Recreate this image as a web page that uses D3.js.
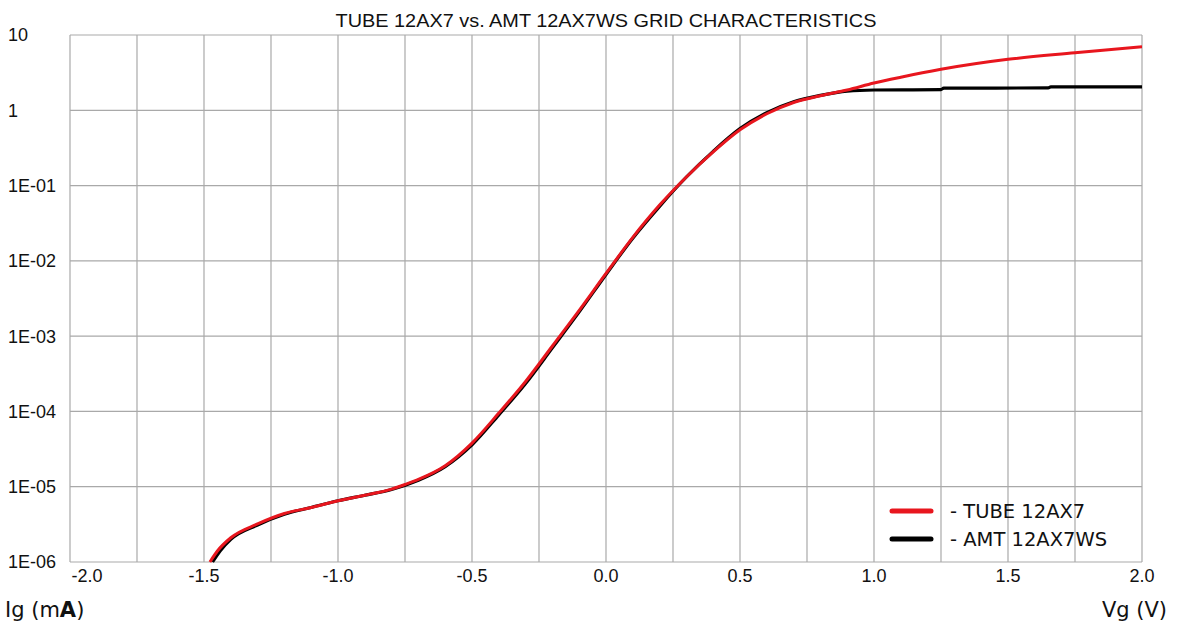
<!DOCTYPE html>
<html lang="en">
<head>
<meta charset="UTF-8">
<script src="https://d3js.org/d3.v7.min.js"></script>
<title>Grid characteristics</title>
<style>
  body { margin: 0; background: #fff; }
</style>
</head>
<body>
<div id="chart"></div>
<script>
// data (Vg in volts, Ig in mA)
var vgTube = [-1.478, -1.45, -1.4, -1.3, -1.2, -1.1, -1.0, -0.9, -0.8, -0.75, -0.7, -0.6, -0.5, -0.4, -0.3, -0.2, -0.1, 0.0, 0.1, 0.2, 0.3, 0.4, 0.5, 0.6, 0.7, 0.8, 0.9, 1.0, 1.1, 1.25, 1.5, 1.75, 2.0];
var igTube = [1e-6, 1.4e-6, 2.1e-6, 3.2e-6, 4.4e-6, 5.3e-6, 6.5e-6, 7.7e-6, 9.3e-6, 1.07e-5, 1.25e-5, 1.9e-5, 3.8e-5, 9.5e-5, 2.5e-4, 7.4e-4, 2.2e-3, 6.8e-3, 0.0205, 0.055, 0.13, 0.28, 0.55, 0.9, 1.27, 1.56, 1.86, 2.3, 2.75, 3.5, 4.75, 5.8, 7.0];

var vgAmt = [-1.468, -1.44, -1.4, -1.3, -1.2, -1.1, -1.0, -0.9, -0.8, -0.7, -0.6, -0.5, -0.4, -0.3, -0.2, -0.1, 0.0, 0.1, 0.2, 0.3, 0.4, 0.5, 0.6, 0.7, 0.8, 0.9, 1.0, 1.25, 1.26, 1.65, 1.66, 2.0];
var igAmt = [1e-6, 1.4e-6, 2.0e-6, 3.1e-6, 4.3e-6, 5.3e-6, 6.5e-6, 7.7e-6, 9.2e-6, 1.22e-5, 1.85e-5, 3.6e-5, 9.0e-5, 2.35e-4, 7.0e-4, 2.1e-3, 6.6e-3, 0.020, 0.053, 0.13, 0.285, 0.57, 0.93, 1.3, 1.58, 1.8, 1.86, 1.88, 1.97, 1.98, 2.05, 2.05];

var xTicks = [-2.0, -1.5, -1.0, -0.5, 0.0, 0.5, 1.0, 1.5, 2.0];
var yTicks = [10, 1, 1e-1, 1e-2, 1e-3, 1e-4, 1e-5, 1e-6];
var yTickLabels = ["10", "1", "1E-01", "1E-02", "1E-03", "1E-04", "1E-05", "1E-06"];

var seriesNames = ["- TUBE 12AX7", "- AMT 12AX7WS"];
var seriesColors = ["#e8161e", "#000000"];

var W = 1178, H = 623;
var margin = {top: 35, right: 36, bottom: 61, left: 70},
    width = W - margin.left - margin.right,
    height = H - margin.top - margin.bottom;

var svg = d3.select("#chart")
  .append("svg")
    .attr("width", W)
    .attr("height", H);

var g = svg.append("g")
    .attr("transform", "translate(" + margin.left + "," + margin.top + ")");

var x = d3.scaleLinear().domain([-2, 2]).range([0, width]);
var y = d3.scaleLog().domain([1e-6, 10]).range([height, 0]);

// grid
var gridColor = "#a9a9a9";
g.append("g")
  .selectAll("line")
  .data(d3.range(-2, 2.001, 0.25))
  .enter().append("line")
    .attr("x1", function(d) { return x(d); })
    .attr("x2", function(d) { return x(d); })
    .attr("y1", 0)
    .attr("y2", height)
    .attr("stroke", gridColor)
    .attr("stroke-width", 1.2);

g.append("g")
  .selectAll("line")
  .data(yTicks)
  .enter().append("line")
    .attr("x1", 0)
    .attr("x2", width)
    .attr("y1", function(d) { return y(d); })
    .attr("y2", function(d) { return y(d); })
    .attr("stroke", gridColor)
    .attr("stroke-width", 1.2);

// y labels
svg.append("g")
  .selectAll("text")
  .data(yTicks)
  .enter().append("text")
    .attr("x", 8)
    .attr("y", function(d) { return margin.top + y(d); })
    .attr("dy", "0.36em")
    .style("font-family", "Liberation Sans, Arial, sans-serif")
    .style("font-size", "18px")
    .attr("fill", "#111")
    .text(function(d, i) { return yTickLabels[i]; });

// x labels
svg.append("g")
  .selectAll("text")
  .data(xTicks)
  .enter().append("text")
    .attr("x", function(d, i) { return i == 0 ? margin.left + 17 : margin.left + x(d); })
    .attr("y", margin.top + height + 14)
    .attr("dy", "0.36em")
    .attr("text-anchor", "middle")
    .style("font-family", "Liberation Sans, Arial, sans-serif")
    .style("font-size", "18px")
    .attr("fill", "#111")
    .text(function(d) { return d.toFixed(1); });

// curves
g.append("clipPath").attr("id", "plotclip")
  .append("rect").attr("width", width).attr("height", height + 2);

var line = d3.line()
    .x(function(d) { return x(d[0]); })
    .y(function(d) { return y(d[1]); })
    .curve(d3.curveMonotoneX);

g.append("path")
  .datum(d3.zip(vgAmt, igAmt))
  .attr("clip-path", "url(#plotclip)")
  .attr("fill", "none")
  .attr("stroke", seriesColors[1])
  .attr("stroke-width", 3.2)
  .attr("d", line);

g.append("path")
  .datum(d3.zip(vgTube, igTube))
  .attr("clip-path", "url(#plotclip)")
  .attr("fill", "none")
  .attr("stroke", seriesColors[0])
  .attr("stroke-width", 3)
  .attr("d", line);

// title
svg.append("text")
  .attr("x", margin.left + width / 2)
  .attr("y", 27)
  .attr("text-anchor", "middle")
  .style("font-family", "Liberation Sans, Arial, sans-serif")
  .style("font-size", "18px")
  .attr("textLength", 541)
  .attr("lengthAdjust", "spacingAndGlyphs")
  .attr("fill", "#111")
  .text("TUBE 12AX7 vs. AMT 12AX7WS GRID CHARACTERISTICS");

// axis titles
var yt = svg.append("text")
  .attr("x", 5)
  .attr("y", 617)
  .style("font-family", "DejaVu Sans, Verdana, sans-serif")
  .style("font-size", "21px")
  .attr("fill", "#111");
yt.append("tspan").text("Ig (m");
yt.append("tspan").attr("font-weight", "bold").text("A");
yt.append("tspan").text(")");

svg.append("text")
  .attr("x", 1167)
  .attr("y", 617)
  .attr("text-anchor", "end")
  .style("font-family", "DejaVu Sans, Verdana, sans-serif")
  .style("font-size", "21px")
  .attr("fill", "#111")
  .text("Vg (V)");

// legend
var legend = svg.append("g").selectAll("g")
  .data(seriesNames)
  .enter().append("g")
    .attr("transform", function(d, i) { return "translate(890," + (511 + i * 28) + ")"; });

legend.append("line")
  .attr("x1", 2).attr("x2", 41)
  .attr("y1", 0).attr("y2", 0)
  .attr("stroke", function(d, i) { return seriesColors[i]; })
  .attr("stroke-width", 5)
  .attr("stroke-linecap", "round");

legend.append("text")
  .attr("x", 60)
  .attr("y", 0)
  .attr("dy", "0.36em")
  .style("font-family", "DejaVu Sans, Verdana, sans-serif")
  .style("font-size", "19.5px")
  .attr("fill", "#111")
  .text(function(d) { return d; });
</script>
</body>
</html>
